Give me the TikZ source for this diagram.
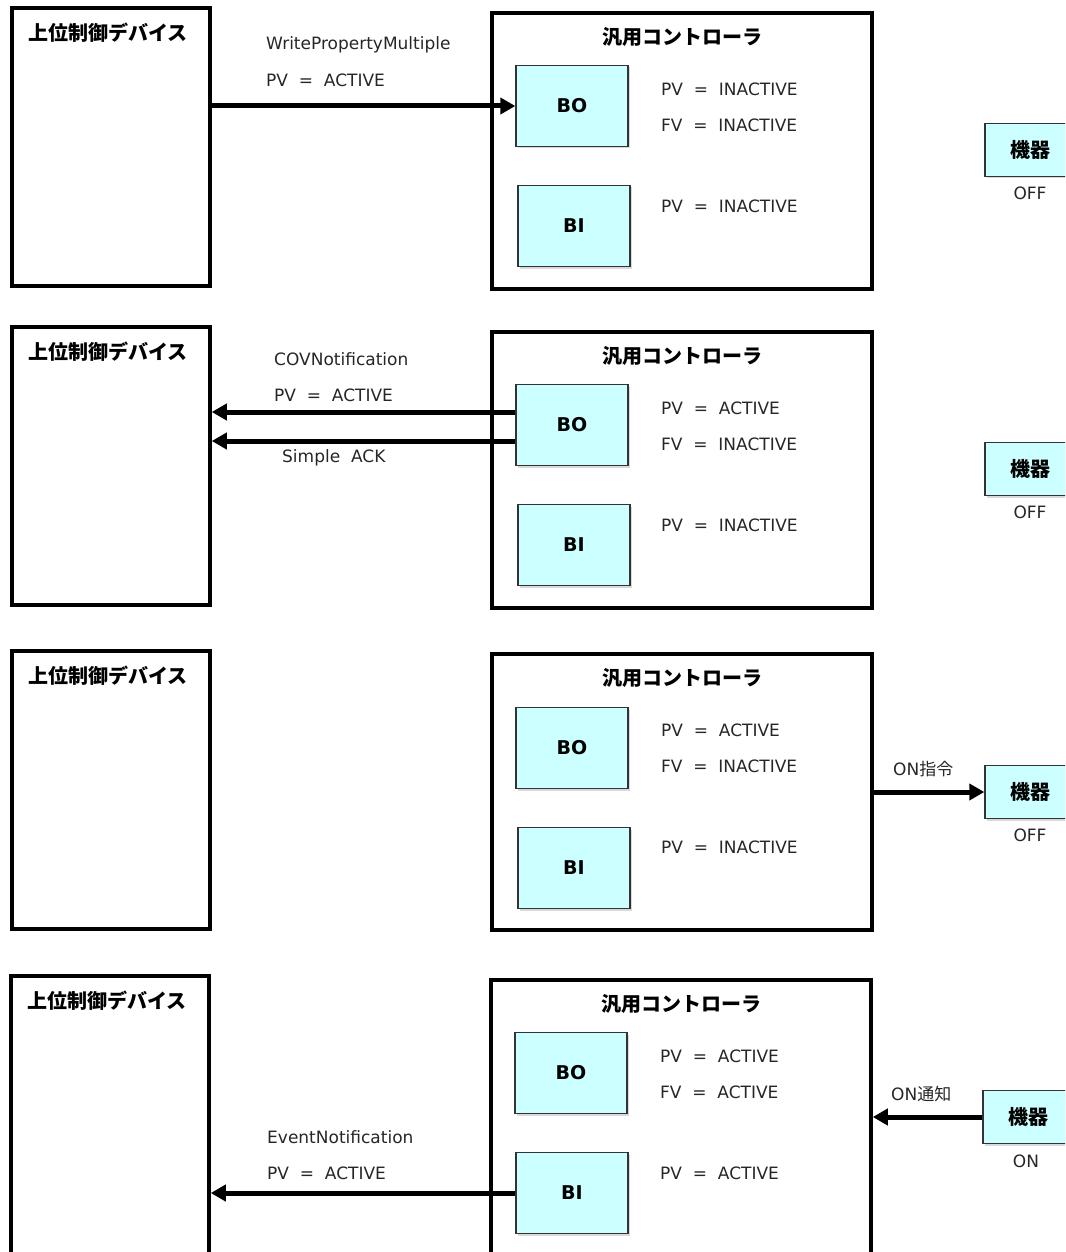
\documentclass[tikz,border=0pt]{standalone}
\usepackage{fontspec}
\setmainfont{DejaVu Sans}
\newfontfamily\jpfont{Noto Sans CJK JP}
\usepackage{tikz}
\usetikzlibrary{arrows.meta}
\usetikzlibrary{positioning,shadows}
\definecolor{objfill}{HTML}{CCFFFF}
\newcommand{\PVis}[1]{PV\ \ =\ \ #1}
\newcommand{\FVis}[1]{FV\ \ =\ \ #1}

\begin{document}
\begin{tikzpicture}[
x=1pt, y=-1pt,
HostBox/.style={draw, line width=3.5pt, minimum width=198pt, minimum height=278pt, inner sep=0pt},
CtlBox/.style={draw, line width=3.5pt, minimum width=380pt, minimum height=276pt, inner sep=0pt},
ObjBox/.style={draw=black!80, line width=1.3pt, fill=objfill, minimum width=112pt, minimum height=81pt,
  font=\fontsize{19}{22}\selectfont\bfseries, drop shadow={shadow xshift=2pt, shadow yshift=-2pt, opacity=.3}},
DevBox/.style={ObjBox, minimum width=90pt, minimum height=53pt, font=\fontsize{20}{24}\selectfont\jpfont\bfseries},
Title/.style={font=\fontsize{20}{24}\selectfont\jpfont\bfseries},
Value/.style={anchor=west, inner sep=0pt, font=\fontsize{17}{20}\selectfont, text=black!85},
Msg/.style={-{Triangle[length=15pt,width=16pt]}, line width=5pt}
]
\useasboundingbox (0,0) rectangle (1065,1252);
\clip (0,0) rectangle (1065,1252);

% 1: WritePropertyMultiple to BO
\node[HostBox] (dev1) at (111,147) {};
\node[Title] (dev1t) at (108,33) {上位制御デバイス};
\node[CtlBox] (ctl1) at (682,151) {};
\node[Title] (ctl1t) at (682,37) {汎用コントローラ};
\node[ObjBox] (bo1) at (572,106) {BO};
\node[ObjBox] (bi1) at (574,226) {BI};
\node[Value] (bo1pv) at (661,89) {\PVis{INACTIVE}};
\node[Value] (bo1fv) at (661,125) {\FVis{INACTIVE}};
\node[Value] (bi1pv) at (661,206) {\PVis{INACTIVE}};
\node[DevBox] (eq1) at (1030,150) {機器};
\node[Value, anchor=center] (eq1st) at (1030,193) {OFF};
\node[Value] (msg1a) at (266,45) {WritePropertyMultiple};
\node[Value] (msg1b) at (266,80) {\PVis{ACTIVE}};
\draw[Msg] (dev1.east |- bo1.west) -- (bo1.west);

% 2: COVNotification back to host
\begin{scope}[yshift=-319pt]
\node[HostBox] (dev2) at (111,147) {};
\node[Title] (dev2t) at (108,33) {上位制御デバイス};
\node[CtlBox] (ctl2) at (682,151) {};
\node[Title] (ctl2t) at (682,37) {汎用コントローラ};
\node[ObjBox] (bo2) at (572,106) {BO};
\node[ObjBox] (bi2) at (574,226) {BI};
\node[Value] (bo2pv) at (661,89) {\PVis{ACTIVE}};
\node[Value] (bo2fv) at (661,125) {\FVis{INACTIVE}};
\node[Value] (bi2pv) at (661,206) {\PVis{INACTIVE}};
\node[DevBox] (eq2) at (1030,150) {機器};
\node[Value, anchor=center] (eq2st) at (1030,193) {OFF};
\node[Value] (msg2a) at (274,40) {COVNotification};
\node[Value] (msg2b) at (274,76) {\PVis{ACTIVE}};
\node[Value] (msg2c) at (282,139) {Simple\ \ ACK};
\coordinate (c2a) at ([yshift=13pt]bo2.west);
\coordinate (c2b) at ([yshift=-16pt]bo2.west);
\draw[Msg] (c2a) -- (dev2.east |- c2a);
\draw[Msg] (c2b) -- (dev2.east |- c2b);
\end{scope}

% 3: ON command to device
\begin{scope}[yshift=-643pt]
\node[HostBox] (dev3) at (111,147) {};
\node[Title] (dev3t) at (108,33) {上位制御デバイス};
\node[CtlBox] (ctl3) at (682,149) {};
\node[Title] (ctl3t) at (682,35) {汎用コントローラ};
\node[ObjBox] (bo3) at (572,105) {BO};
\node[ObjBox] (bi3) at (574,225) {BI};
\node[Value] (bo3pv) at (661,87) {\PVis{ACTIVE}};
\node[Value] (bo3fv) at (661,123) {\FVis{INACTIVE}};
\node[Value] (bi3pv) at (661,204) {\PVis{INACTIVE}};
\node[DevBox] (eq3) at (1030,149) {機器};
\node[Value, anchor=center] (eq3st) at (1030,192) {OFF};
\node[Value] (cmd3) at (893,126) {ON{\jpfont 指令}};
\draw[Msg] (ctl3.east |- eq3.west) -- (eq3.west);
\end{scope}

% 4: ON feedback, EventNotification
\begin{scope}[yshift=-968pt, xshift=-1pt]
\node[HostBox, minimum height=290pt] (dev4) at (111,153) {};
\node[Title] (dev4t) at (108,33) {上位制御デバイス};
\node[CtlBox, minimum height=290pt] (ctl4) at (682,157) {};
\node[Title] (ctl4t) at (682,36) {汎用コントローラ};
\node[ObjBox] (bo4) at (572,105) {BO};
\node[ObjBox] (bi4) at (573,225) {BI};
\node[Value] (bo4pv) at (661,88) {\PVis{ACTIVE}};
\node[Value] (bo4fv) at (661,124) {\FVis{ACTIVE}};
\node[Value] (bi4pv) at (661,205) {\PVis{ACTIVE}};
\node[DevBox] (eq4) at (1029,149) {機器};
\node[Value, anchor=center] (eq4st) at (1027,193) {ON};
\node[Value] (cmd4) at (892,126) {ON{\jpfont 通知}};
\node[Value] (msg4a) at (268,169) {EventNotification};
\node[Value] (msg4b) at (268,205) {\PVis{ACTIVE}};
\draw[Msg] (eq4.west) -- (ctl4.east |- eq4.west);
\draw[Msg] (bi4.west) -- (dev4.east |- bi4.west);
\end{scope}

\end{tikzpicture}
\end{document}
